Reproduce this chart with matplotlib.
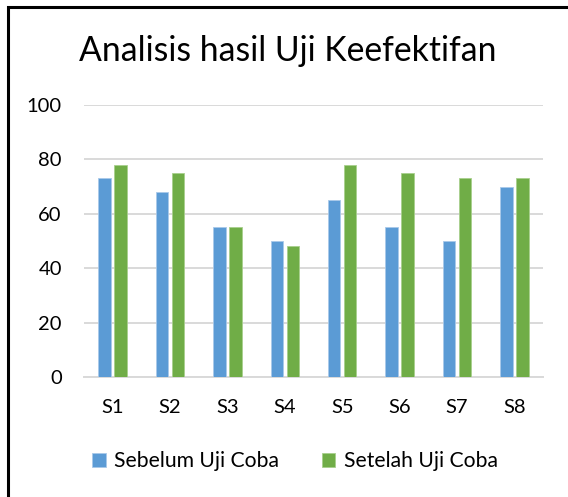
import numpy as np
import matplotlib.pyplot as plt
from matplotlib.patches import Rectangle

plt.rcParams['font.family'] = ['Lato', 'DejaVu Sans']

categories = ['S1', 'S2', 'S3', 'S4', 'S5', 'S6', 'S7', 'S8']
sebelum = [73, 68, 55, 50, 65, 55, 50, 70]
setelah = [78, 75, 55, 48, 78, 75, 73, 73]
series_names = ['Sebelum Uji Coba', 'Setelah Uji Coba']
yticks = [0, 20, 40, 60, 80, 100]

blue = '#5B9BD5'
green = '#70AD47'

fig = plt.figure(figsize=(5.68, 4.97), dpi=100)
ax = fig.add_axes([84/568, 1-377/497, (543-84)/568, (377-105)/497])

x = np.arange(len(categories))
w = 0.218
gap = 0.03
ax.bar(x - w/2 - gap, sebelum, w, color=blue, edgecolor='#A9C9EA', linewidth=0.6,
       label=series_names[0], zorder=3)
ax.bar(x + w/2 + gap, setelah, w, color=green, edgecolor='#A8D08D', linewidth=0.6,
       label=series_names[1], zorder=3)

ax.set_xlim(-0.5, len(categories) - 0.5)
ax.set_ylim(0, 100)
ax.set_yticks(yticks)
ax.set_xticks(x)
ax.set_xticklabels(categories)
ax.yaxis.grid(True, color='#D9D9D9', linewidth=1.4, zorder=0)
for s in ['top', 'right', 'left']:
    ax.spines[s].set_visible(False)
ax.spines['bottom'].set_color('#D9D9D9')
ax.spines['bottom'].set_linewidth(1.4)
ax.tick_params(axis='y', length=0, pad=16, labelsize=14.5, labelcolor='#000000')
ax.tick_params(axis='x', length=0, pad=16, labelsize=14.5, labelcolor='#000000')

fig.text(288/568, 1-51/497, 'Analisis hasil Uji Keefektifan', ha='center', va='center',
         fontsize=24.3, color='#000000')

fig.legend(loc='center', bbox_to_anchor=(295/568, 1-461/497), ncol=2, frameon=False,
           fontsize=15.2, handlelength=0.65, handleheight=0.65, handletextpad=0.4,
           columnspacing=2.0)

# outer chart frame (only top and left edges fall inside the image)
fig.patches.append(Rectangle((7.5/568, -0.1), 1.2, 1 - 6.8/497 + 0.1,
                             transform=fig.transFigure, fill=False,
                             edgecolor='#000000', linewidth=2.2))

fig.savefig('out.png', dpi=100, facecolor='white')
